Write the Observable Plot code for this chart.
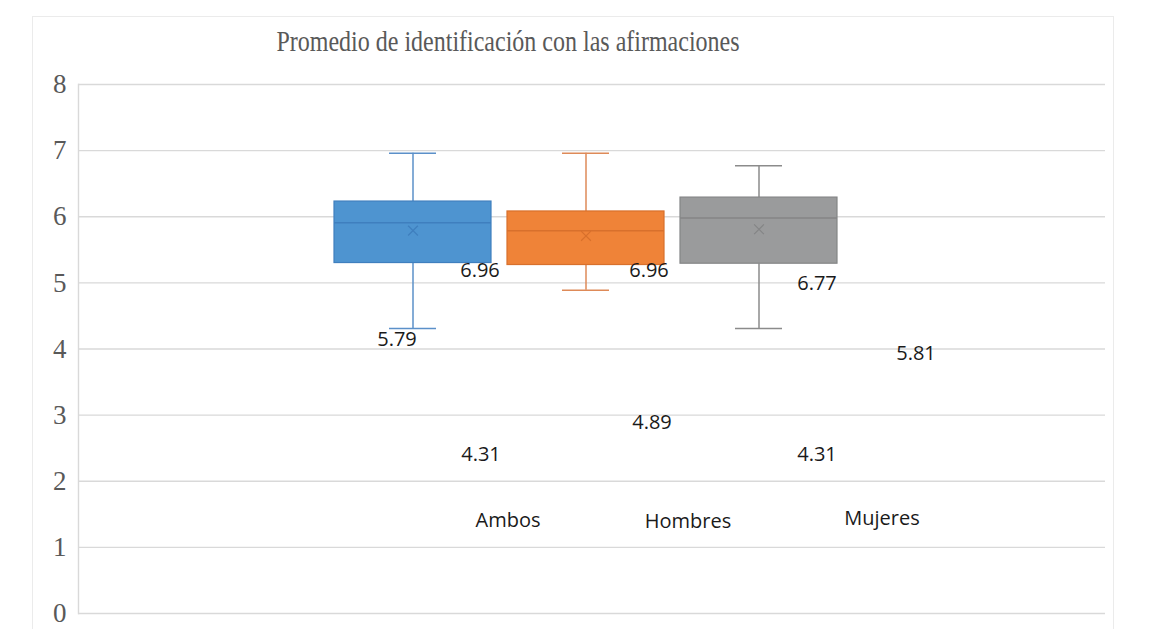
<!DOCTYPE html>
<html><head><meta charset="utf-8">
<script src="https://cdn.jsdelivr.net/npm/d3@7"></script>
<script src="https://cdn.jsdelivr.net/npm/@observablehq/plot@0.6"></script>
<style>
body{margin:0;background:#fff;width:1150px;height:629px;overflow:hidden;position:relative;}
#border{position:absolute;left:32px;top:16px;width:1080px;height:700px;border:1px solid #ebebeb;}
#title{position:absolute;left:0;top:28px;width:1016px;text-align:center;font-family:"Liberation Serif",serif;font-size:24px;color:#595959;white-space:nowrap;transform:scaleY(1.25);transform-origin:50% 50%;}
#chart{position:absolute;left:0;top:60px;}
</style></head><body>
<div id="border"></div>
<div id="title">Promedio de identificación con las afirmaciones</div>
<div id="chart"></div>
<script>
// ---- data ----
const groups = ["Ambos", "Hombres", "Mujeres"];
const minVals = [4.31, 4.89, 4.31];
const q1Vals = [5.30, 5.27, 5.29];
const medianVals = [5.91, 5.79, 5.98];
const q3Vals = [6.23, 6.08, 6.29];
const maxVals = [6.96, 6.96, 6.77];
const meanVals = [5.79, 5.71, 5.81];
const yTicks = [0, 1, 2, 3, 4, 5, 6, 7, 8];

// ---- styles ----
const fillColor = {Ambos: "#4e94d0", Hombres: "#ef8338", Mujeres: "#9a9b9c"};
const edgeColor = {Ambos: "#3f7fbe", Hombres: "#d8702c", Mujeres: "#848586"};
const whiskColor = {Ambos: "#5b90c9", Hombres: "#de8a58", Mujeres: "#8b8b8b"};
const labelFont = "'Open Sans', sans-serif";

const rows = groups.map((g, i) => ({
  group: g, min: minVals[i], q1: q1Vals[i], median: medianVals[i],
  q3: q3Vals[i], max: maxVals[i], mean: meanVals[i]
}));

// data-label placement (offsets from the value they label, as in the original)
const valueLabelLayout = [
  {group: "Ambos", stat: "max", dx: 67, dy: 117},
  {group: "Ambos", stat: "mean", dx: -16, dy: 109},
  {group: "Ambos", stat: "min", dx: 68, dy: 126},
  {group: "Hombres", stat: "max", dx: 63, dy: 117},
  {group: "Hombres", stat: "min", dx: 66, dy: 132},
  {group: "Mujeres", stat: "max", dx: 58, dy: 118},
  {group: "Mujeres", stat: "mean", dx: 157, dy: 124},
  {group: "Mujeres", stat: "min", dx: 58, dy: 126}
];
const categoryLabelLayout = {Ambos: [95, -93], Hombres: [102, -92], Mujeres: [123, -95]};

const valueLabelMarks = valueLabelLayout.map(L => {
  const row = rows.filter(r => r.group === L.group);
  return Plot.text(row, {
    x: "group", y: L.stat, text: d => d[L.stat].toFixed(2),
    dx: L.dx, dy: L.dy, fontSize: 20, fontFamily: labelFont, fill: "#1a1a1a"
  });
});
const categoryMarks = groups.map(g => Plot.text([g], {
  x: d => d, frameAnchor: "bottom", lineAnchor: "middle",
  dx: categoryLabelLayout[g][0], dy: categoryLabelLayout[g][1],
  fontSize: 20, fontFamily: labelFont, fill: "#1a1a1a"
}));

const chart = Plot.plot({
  width: 1150,
  height: 569,
  marginTop: 24,
  marginBottom: 16,
  marginLeft: 78,
  marginRight: 45,
  style: {background: "transparent", overflow: "visible"},
  x: {type: "band", domain: groups, paddingInner: 0.0925, paddingOuter: 1.514, align: 0.4886, axis: null},
  y: {domain: [0, 8]},
  marks: [
    Plot.ruleY(yTicks, {stroke: "#d9d9d9", strokeWidth: 1.4}),
    Plot.frame({anchor: "left", stroke: "#d9d9d9", strokeWidth: 1.4}),
    Plot.axisY(yTicks, {tickSize: 0, tickPadding: 12, tickFormat: d3.format("d"),
      fill: "#595959", fontSize: 27, fontFamily: "'Liberation Serif', serif", label: null}),
    Plot.ruleX(rows, {x: "group", y1: "min", y2: "q1", stroke: d => whiskColor[d.group], strokeWidth: 1.5}),
    Plot.ruleX(rows, {x: "group", y1: "q3", y2: "max", stroke: d => whiskColor[d.group], strokeWidth: 1.5}),
    Plot.tickY(rows, {x: "group", y: "min", stroke: d => whiskColor[d.group], strokeWidth: 1.5, insetLeft: 55, insetRight: 55}),
    Plot.tickY(rows, {x: "group", y: "max", stroke: d => whiskColor[d.group], strokeWidth: 1.5, insetLeft: 55, insetRight: 55}),
    Plot.barY(rows, {x: "group", y1: "q1", y2: "q3", fill: d => fillColor[d.group], stroke: d => edgeColor[d.group], strokeWidth: 1.2}),
    Plot.tickY(rows, {x: "group", y: "median", stroke: d => edgeColor[d.group], strokeWidth: 1.5}),
    Plot.dot(rows, {x: "group", y: "mean", symbol: "times", r: 4.5, stroke: d => edgeColor[d.group], strokeWidth: 1.2}),
    ...valueLabelMarks,
    ...categoryMarks
  ]
});
document.getElementById("chart").appendChild(chart);
</script>
</body></html>
